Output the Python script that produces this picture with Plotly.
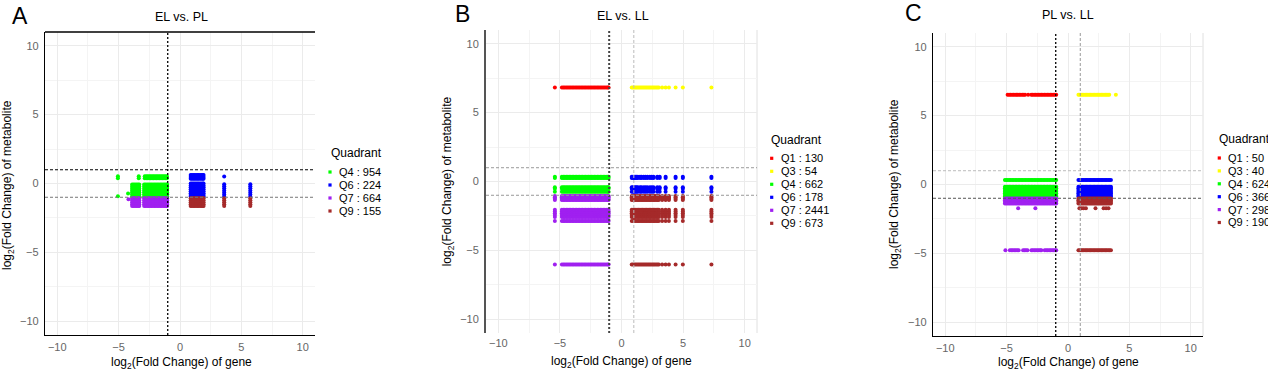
import plotly.graph_objects as go

W, H = 1268, 373

# ---------------- DATA ----------------
quad_names = ["Q1", "Q3", "Q4", "Q6", "Q7", "Q9"]
quad_colors = ["#FF0000", "#FFFF00", "#00FF00", "#0000FF", "#A020F0", "#A52A2A"]

# Panel A : EL vs. PL
A_title = "EL vs. PL"
A_quads = ["Q4", "Q6", "Q7", "Q9"]
A_counts = [954, 224, 664, 155]
A_down_x = [-3.9, -3.78, -3.66, -3.54, -3.42, -3.32, -2.92, -2.8, -2.68, -2.56, -2.44, -2.32,
            -2.2, -2.08, -1.96, -1.84, -1.72, -1.6, -1.48, -1.36, -1.24, -1.12, -1.05]
A_top_x = [-5.06, -3.36, -2.87, -2.75, -2.63, -2.51, -2.39, -2.27, -2.15, -2.03, -1.91, -1.79,
           -1.67, -1.55, -1.43, -1.31, -1.19, -1.07]
A_up_x = [0.87, 0.98, 1.09, 1.2, 1.31, 1.42, 1.53, 1.64, 1.75, 1.86, 1.92]
A_up_far_x = [3.6, 5.73]
A_q4_top_y = [0.52, 0.38]
A_q4_y = [-0.08, -0.22, -0.36, -0.5, -0.64, -0.78, -0.92]
A_q4_out_x = [-5.06, -4.23]
A_q4_out_y = [-0.93, -0.73]
A_q7_y = [-1.08, -1.22, -1.36, -1.5, -1.64]
A_q7_out_x = [-4.2]
A_q7_out_y = [-1.15]
A_q6_y = [0.62, 0.48, 0.34, 0.0, -0.14, -0.28, -0.42, -0.56, -0.7, -0.84, -0.95]
A_q6_far_y = [-0.05, -0.2, -0.35, -0.5, -0.65, -0.8, -0.95]
A_q6_out_x = [3.6]
A_q6_out_y = [0.5]
A_q9_y = [-1.08, -1.22, -1.36, -1.5, -1.64]

# Panel B : EL vs. LL
B_title = "EL vs. LL"
B_quads = ["Q1", "Q3", "Q4", "Q6", "Q7", "Q9"]
B_counts = [130, 54, 662, 178, 2441, 673]
B_down_x = [-5.41, -4.84, -4.72, -4.6, -4.48, -4.36, -4.24, -4.12, -4.0, -3.88, -3.76, -3.64,
            -3.52, -3.4, -3.28, -3.16, -3.04, -2.92, -2.8, -2.68, -2.56, -2.44, -2.32, -2.2,
            -2.08, -1.96, -1.84, -1.72, -1.6, -1.48, -1.36, -1.24, -1.12, -1.05]
B_up_x = [0.83, 0.94, 1.05, 1.16, 1.27, 1.38, 1.49, 1.6, 1.71, 1.82, 1.93, 2.04, 2.15, 2.26,
          2.37, 2.48, 2.59, 2.7, 2.81, 2.92, 3.03, 3.3, 3.58, 3.85, 4.39, 4.98, 7.3]
B_q6_x = [0.83, 0.93, 1.03, 1.13, 1.23, 1.33, 1.5, 1.62, 1.8, 1.95, 2.1, 2.3, 2.45, 2.6, 2.9,
          3.1, 3.58, 4.39, 4.98, 7.3]
B_top_y = [6.83]
B_mid_y = [0.34, 0.26, -0.42, -0.52, -0.74]
B_low_y = [-1.05, -1.15, -1.25, -1.35, -2.05, -2.18, -2.31, -2.44, -2.57, -2.86, -6.03]

# Panel C : PL vs. LL
C_title = "PL vs. LL"
C_quads = ["Q1", "Q3", "Q4", "Q6", "Q7", "Q9"]
C_counts = [50, 40, 624, 366, 298, 190]
C_q1_x = [-4.92, -4.8, -4.68, -4.56, -4.44, -4.32, -4.2, -4.08, -3.96, -3.84, -3.72, -3.6,
          -3.5, -3.25, -3.0, -2.88, -2.76, -2.64, -2.52, -2.4, -2.28, -2.16, -2.04, -1.92,
          -1.8, -1.68, -1.56, -1.44, -1.32, -1.2, -1.08, -0.96]
C_down_x = [-5.14, -5.02, -4.9, -4.78, -4.66, -4.54, -4.42, -4.3, -4.18, -4.06, -3.94, -3.82,
            -3.7, -3.58, -3.46, -3.34, -3.22, -3.1, -2.98, -2.86, -2.74, -2.62, -2.5, -2.38,
            -2.26, -2.14, -2.02, -1.9, -1.78, -1.66, -1.54, -1.42, -1.3, -1.18, -1.06, -0.96]
C_bottom_down_x = [-5.1, -4.74, -4.62, -4.5, -4.38, -4.26, -4.14, -4.02, -3.66, -3.54, -3.42,
                   -3.3, -2.98, -2.86, -2.74, -2.62, -2.5, -2.38, -2.26, -2.17, -1.9, -1.78,
                   -1.66, -1.54, -1.42, -1.3, -1.18, -1.06, -0.96]
C_q3_x = [0.85, 0.96, 1.07, 1.18, 1.29, 1.4, 1.51, 1.62, 1.73, 1.84, 1.95, 2.06, 2.17, 2.28,
          2.39, 2.5, 2.61, 2.72, 2.83, 2.94, 3.05, 3.16, 3.26, 3.36, 3.9]
C_up_x = [0.85, 0.96, 1.07, 1.18, 1.29, 1.4, 1.51, 1.62, 1.73, 1.84, 1.95, 2.06, 2.17, 2.28,
          2.39, 2.5, 2.61, 2.72, 2.83, 2.94, 3.05, 3.16, 3.27, 3.38, 3.5]
C_top_y = [6.51]
C_q4_y = [0.32, -0.16, -0.28, -0.4, -0.52, -0.64, -0.76, -0.88]
C_q7_y = [-1.02, -1.14, -1.26, -1.38]
C_bottom_y = [-4.78]
C_q7_out_x = [-4.06, -2.66]
C_q7_out_y = [-1.72, -1.72]
C_q9_out_x = [0.93, 1.1, 1.27, 1.46, 2.24, 2.9, 3.1, 3.3]
C_q9_out_y = [-1.72, -1.72, -1.72, -1.72, -1.72, -1.72, -1.72, -1.72]

AXIS_TICKS = [-10, -5, 0, 5, 10]


# ---------------- helpers ----------------
def grid(xs, ys):
    px, py = [], []
    for y in ys:
        for x in xs:
            px.append(x)
            py.append(y)
    return px, py


def combine(*parts):
    px, py = [], []
    for a, b in parts:
        px += list(a)
        py += list(b)
    return px, py


def color_of(q):
    return quad_colors[quad_names.index(q)]


panel_points = {
    "A": {
        "Q4": combine(grid(A_top_x, A_q4_top_y), grid(A_down_x, A_q4_y), (A_q4_out_x, A_q4_out_y)),
        "Q6": combine(grid(A_up_x, A_q6_y), grid(A_up_far_x, A_q6_far_y), (A_q6_out_x, A_q6_out_y)),
        "Q7": combine(grid(A_down_x, A_q7_y), (A_q7_out_x, A_q7_out_y)),
        "Q9": combine(grid(A_up_x + A_up_far_x, A_q9_y)),
    },
    "B": {
        "Q1": combine(grid(B_down_x, B_top_y)),
        "Q3": combine(grid(B_up_x, B_top_y)),
        "Q4": combine(grid(B_down_x, B_mid_y)),
        "Q6": combine(grid(B_q6_x, B_mid_y)),
        "Q7": combine(grid(B_down_x, B_low_y)),
        "Q9": combine(grid(B_up_x, B_low_y)),
    },
    "C": {
        "Q1": combine(grid(C_q1_x, C_top_y)),
        "Q3": combine(grid(C_q3_x, C_top_y)),
        "Q4": combine(grid(C_down_x, C_q4_y)),
        "Q6": combine(grid(C_up_x, C_q4_y)),
        "Q7": combine(grid(C_down_x, C_q7_y), grid(C_bottom_down_x, C_bottom_y), (C_q7_out_x, C_q7_out_y)),
        "Q9": combine(grid(C_up_x, C_q7_y), grid(C_up_x, C_bottom_y), (C_q9_out_x, C_q9_out_y)),
    },
}


def px2x(p):
    return p / W


def px2y(p):
    return 1 - p / H


panels = [
    dict(key="A", title=A_title, quads=A_quads, counts=A_counts, box=(45, 315, 32, 335),
         letter_pos=(20, 16), title_pos=(181.5, 17), xt=(181.5, 363), yt=(8, 185),
         leg=dict(title=(329, 153), first=172, step=13, mx=330, tx=337)),
    dict(key="B", title=B_title, quads=B_quads, counts=B_counts, box=(486, 757, 30, 333),
         letter_pos=(462.5, 13.5), title_pos=(622.5, 16), xt=(621.7, 362), yt=(448.3, 181),
         leg=dict(title=(768.5, 139.5), first=158.3, step=13, mx=771.7, tx=779)),
    dict(key="C", title=C_title, quads=C_quads, counts=C_counts, box=(933, 1203, 33, 336),
         letter_pos=(913, 12.5), title_pos=(1068, 15), xt=(1068, 363), yt=(895, 184),
         leg=dict(title=(1216.5, 139), first=158, step=12.9, mx=1219.3, tx=1226)),
]

fig = go.Figure()
annotations = []
shapes = []
FONT = "Liberation Sans, Arial, sans-serif"

for i, p in enumerate(panels):
    idx = "" if i == 0 else str(i + 1)
    xa, ya = "x" + idx, "y" + idx
    l, r, t, b = p["box"]
    for q in p["quads"]:
        xs, ys = panel_points[p["key"]][q]
        fig.add_trace(go.Scatter(
            x=xs, y=ys, mode="markers", xaxis=xa, yaxis=ya, showlegend=False,
            marker=dict(size=4, color=color_of(q), line=dict(width=0)),
            hoverinfo="skip"))

    axis_common = dict(range=[-11, 11], tickvals=AXIS_TICKS, ticks="", showgrid=True,
                       gridcolor="#EBEBEB", gridwidth=1, zeroline=False,
                       tickfont=dict(family=FONT, size=11, color="#666666"),
                       minor=dict(dtick=2.5, tick0=0, showgrid=True, gridcolor="#F4F4F4", gridwidth=1),
                       fixedrange=True)
    xdict = dict(axis_common, domain=[px2x(l), px2x(r)], anchor=ya, ticklabelstandoff=2)
    ydict = dict(axis_common, domain=[px2y(b), px2y(t)], anchor=xa, ticklabelstandoff=3)
    if p["key"] == "B":
        xdict.update(showline=False)
        ydict.update(showline=True, linecolor="#555555", linewidth=2)
    else:
        xdict.update(showline=True, linecolor="black", linewidth=1.3)
        ydict.update(showline=True, linecolor="black", linewidth=1.3)
    fig.update_layout(**{"xaxis" + idx: xdict, "yaxis" + idx: ydict})

    xdom, ydom = xa + " domain", ya + " domain"
    if p["key"] == "A":
        refs = [("v", -1, "black", "2px,2px", 1.3), ("h", 1, "black", "3px,2px", 1.1),
                ("h", -1, "#777777", "3px,2px", 1)]
        shapes.append(dict(type="line", xref=xdom, yref=ydom, x0=0, x1=1, y0=1, y1=1,
                           line=dict(color="black", width=1.3), layer="above"))
    elif p["key"] == "B":
        refs = [("v", -1, "#444444", "2px,2px", 2), ("v", 1, "#BBBBBB", "3px,2px", 1),
                ("h", 1, "#999999", "3px,2px", 1), ("h", -1, "#999999", "3px,2px", 1)]
        shapes.append(dict(type="line", xref=xdom, yref=ydom, x0=1, x1=1, y0=0, y1=1,
                           line=dict(color="#E0E0E0", width=1), layer="below"))
    else:
        refs = [("v", -1, "black", "2px,2px", 1.3), ("v", 1, "#999999", "3px,2px", 1),
                ("h", 1, "#BBBBBB", "3px,2px", 1), ("h", -1, "#555555", "3px,2px", 1)]
        shapes.append(dict(type="line", xref=xdom, yref=ydom, x0=1, x1=1, y0=0, y1=1,
                           line=dict(color="#E0E0E0", width=1), layer="below"))
    for kind, v, col, dash, wd in refs:
        if kind == "v":
            shapes.append(dict(type="line", xref=xa, yref=ydom, x0=v, x1=v, y0=0, y1=1,
                               line=dict(color=col, dash=dash, width=wd), layer="above"))
        else:
            shapes.append(dict(type="line", xref=xdom, yref=ya, x0=0, x1=1, y0=v, y1=v,
                               line=dict(color=col, dash=dash, width=wd), layer="above"))

    lx, ly = p["letter_pos"]
    annotations.append(dict(text=p["key"], x=px2x(lx), y=px2y(ly), xref="paper", yref="paper",
                            showarrow=False, xanchor="center", yanchor="middle",
                            font=dict(family=FONT, size=23, color="black")))
    tx, ty = p["title_pos"]
    annotations.append(dict(text=p["title"], x=px2x(tx), y=px2y(ty), xref="paper", yref="paper",
                            showarrow=False, xanchor="center", yanchor="middle",
                            font=dict(family=FONT, size=12.5, color="black")))
    xx, xy = p["xt"]
    annotations.append(dict(text="log<sub>2</sub>(Fold Change) of gene", x=px2x(xx), y=px2y(xy),
                            xref="paper", yref="paper", showarrow=False,
                            xanchor="center", yanchor="middle",
                            font=dict(family=FONT, size=12, color="black")))
    yx, yy = p["yt"]
    annotations.append(dict(text="log<sub>2</sub>(Fold Change) of metabolite", x=px2x(yx), y=px2y(yy),
                            xref="paper", yref="paper", showarrow=False, textangle=-90,
                            xanchor="center", yanchor="middle",
                            font=dict(family=FONT, size=12, color="black")))

    lg = p["leg"]
    annotations.append(dict(text="Quadrant", x=px2x(lg["title"][0]), y=px2y(lg["title"][1]),
                            xref="paper", yref="paper", showarrow=False,
                            xanchor="left", yanchor="middle",
                            font=dict(family=FONT, size=12, color="black")))
    for k, (q, c) in enumerate(zip(p["quads"], p["counts"])):
        yk = lg["first"] + k * lg["step"]
        shapes.append(dict(type="rect", xref="paper", yref="paper",
                           x0=px2x(lg["mx"] - 1.6), x1=px2x(lg["mx"] + 1.6),
                           y0=px2y(yk + 1.6), y1=px2y(yk - 1.6),
                           fillcolor=color_of(q), line=dict(width=0)))
        annotations.append(dict(text=f"{q} : {c}", x=px2x(lg["tx"]), y=px2y(yk),
                                xref="paper", yref="paper", showarrow=False,
                                xanchor="left", yanchor="middle",
                                font=dict(family=FONT, size=11, color="black")))

fig.update_layout(
    width=W, height=H, margin=dict(l=0, r=0, t=0, b=0),
    paper_bgcolor="white", plot_bgcolor="white",
    showlegend=False, annotations=annotations, shapes=shapes,
    font=dict(family=FONT),
    hovermode=False,
)

fig.write_html("out.html", config={"displayModeBar": False},
               post_script="document.body.style.margin='0';document.body.style.overflow='hidden';")
